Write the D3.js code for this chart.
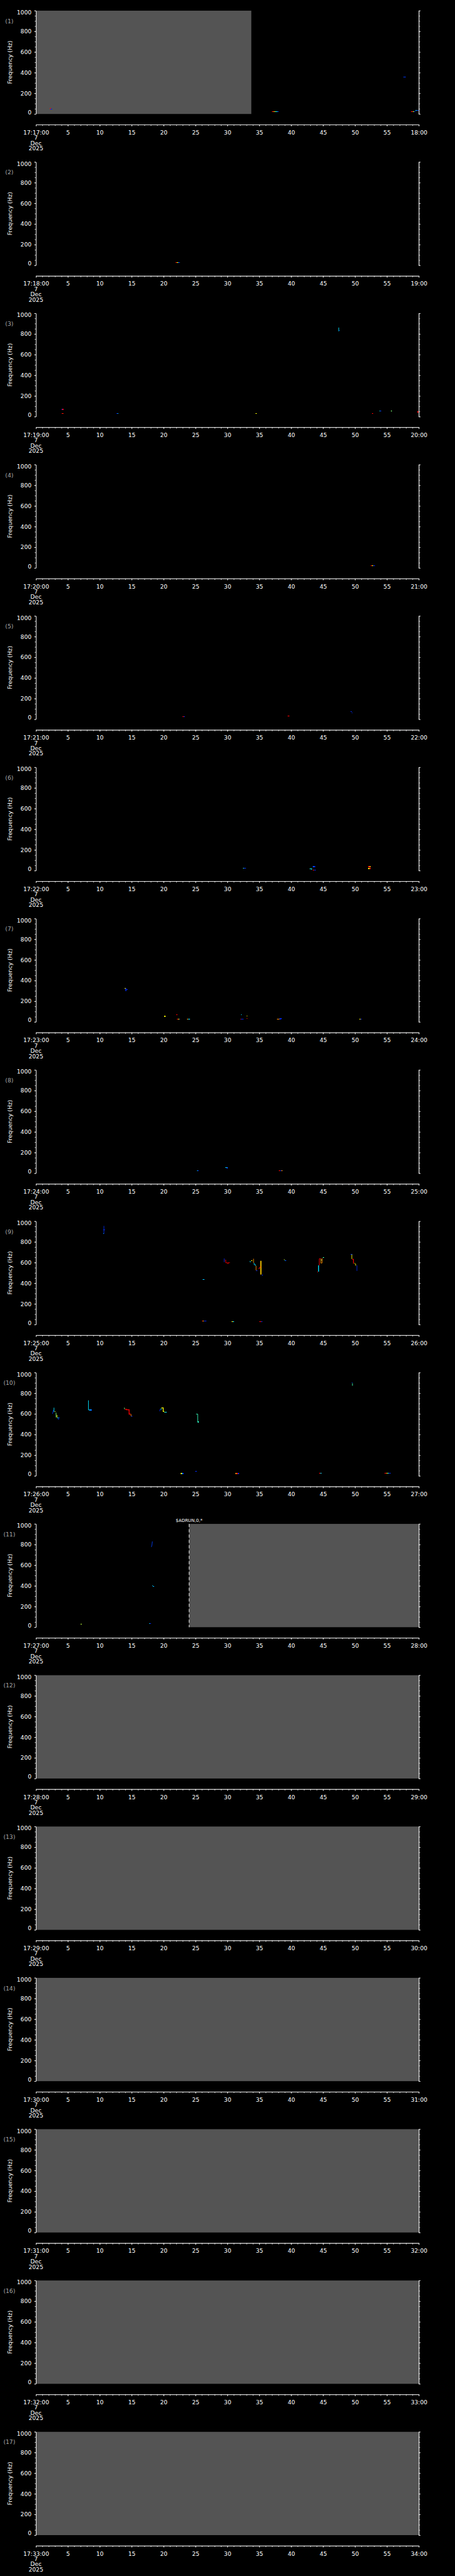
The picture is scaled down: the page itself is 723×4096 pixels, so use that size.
<!DOCTYPE html>
<html>
<head>
<meta charset="utf-8">
<script src="https://cdn.jsdelivr.net/npm/d3@7"></script>
<style>
html, body { margin: 0; padding: 0; background: #000; }
svg { display: block; }
</style>
</head>
<body>
<div id="chart"></div>
<script>
// one panel per minute, 17:17 .. 17:33
const panelMinutes = d3.range(17, 34);
const majorSec = d3.range(0, 61, 5);
const minorSec = d3.range(0, 61, 1);
const freqMajor = d3.range(0, 1001, 200);
const freqMinor = d3.range(0, 1001, 50);
const dateLines = ["7", "Dec", "2025"];

// [panel, tStart, tEnd] no-data (grey) spans
const grayRanges = [
  [0, 0, 33.75], [10, 24, 60],
  [11, 0, 60], [12, 0, 60], [13, 0, 60], [14, 0, 60], [15, 0, 60], [16, 0, 60]
];
// [panel, t] dashed file boundaries
const boundaries = [[10, 24]];
const markerLabels = [[10, 24, "$ADRUN,0,*"]];

// [panel, tStart, freq, [cell values...]]  one cell per time bin
const dashes = [
  [0, 2.15, 55, [0.92]], [0, 2.25, 46, [0.1, 0.1]],
  [0, 37.0, 24, [0.92, 0.8, 0.65, 0.5, 0.35, 0.1]],
  [0, 57.6, 359, [0.15, 0.1]],
  [0, 58.75, 25, [0.92, 0.92, 0.6, 0.1]],
  [0, 59.5, 36, [0.35, 0.2, 0.1]],
  [1, 21.9, 25, [0.92, 0.65, 0.3, 0.1]],
  [2, 47.5, 835, [0.1]],
  [2, 4.0, 70, [0.1, 0.92]], [2, 4.0, 28, [0.92, 0.9]], [2, 12.6, 28, [0.1, 0.35]],
  [2, 34.4, 28, [0.65]], [2, 52.7, 28, [0.92]], [2, 53.8, 57, [0.35, 0.1]],
  [2, 55.6, 55, [0.55]], [2, 59.8, 45, [0.92]],
  [3, 52.5, 23, [0.92, 0.65, 0.1, 0.1]],
  [4, 23.0, 24, [0.92, 0.1]], [4, 39.4, 30, [0.92, 0.92]], [4, 49.3, 72, [0.1]], [4, 49.45, 64, [0.1]],
  [5, 32.4, 25, [0.5, 0.2, 0.1]], [5, 42.9, 18, [0.4, 0.4]], [5, 43.4, 38, [0.2, 0.1]],
  [5, 43.4, 3, [0.92, 0.1, 0.1]], [5, 52.1, 38, [0.92, 0.8]], [5, 52.1, 20, [0.65, 0.92]],
  [6, 13.9, 324, [0.65]], [6, 14.0, 312, [0.1, 0.1]],
  [6, 20.1, 54, [0.65]], [6, 22.0, 71, [0.92]], [6, 22.1, 28, [0.92, 0.65, 0.1]],
  [6, 23.65, 28, [0.8, 0.35, 0.35]], [6, 32.1, 71, [0.35]], [6, 32.0, 28, [0.92, 0.1, 0.1]],
  [6, 33.0, 57, [0.65]], [6, 33.0, 32, [0.92]], [6, 37.8, 28, [0.8, 0.8, 0.1, 0.1]],
  [6, 38.2, 33, [0.1, 0.1]], [6, 50.7, 28, [0.65, 0.1]], [6, 50.9, 25, [0.1]],
  [7, 25.2, 25, [0.35, 0.1]], [7, 29.7, 55, [0.35, 0.25]], [7, 29.85, 49, [0.1]],
  [7, 38.1, 25, [0.92, 0.1, 0.8]],
  [8, 10.5, 917, [0.1, 0.1]], [8, 10.5, 880, [0.35]], [8, 26.1, 436, [0.35, 0.3]],
  [8, 33.75, 617, [0.65]], [8, 34.55, 520, [0.1]], [8, 35.4, 481, [0.1]],
  [8, 39.05, 618, [0.1]], [8, 44.05, 510, [0.92]], [8, 44.7, 625, [0.55]], [8, 45.0, 650, [0.5]],
  [8, 49.25, 681, [0.1, 0.15]],
  [8, 26.0, 32, [0.92, 0.8, 0.1, 0.1]], [8, 30.7, 27, [0.65, 0.35]], [8, 35.0, 27, [0.92, 0.92, 0.1]],
  [9, 2.9, 620, [0.65]], [9, 3.35, 560, [0.35, 0.1]], [9, 3.45, 548, [0.1]],
  [9, 8.4, 638, [0.2, 0.2]], [9, 14.95, 577, [0.1]], [9, 19.55, 648, [0.35]],
  [9, 20.15, 618, [0.5, 0.35]], [9, 25.35, 522, [0.45]], [9, 49.45, 903, [0.1]],
  [9, 22.65, 23, [0.65, 0.35, 0.1]], [9, 24.9, 44, [0.1, 0.1]], [9, 31.3, 23, [0.8, 0.92, 0.1]],
  [9, 44.4, 27, [0.92, 0.35]], [9, 54.6, 27, [0.92, 0.92, 0.65, 0.35, 0.1, 0.1]],
  [10, 18.2, 403, [0.35]], [10, 18.35, 396, [0.3]], [10, 7.0, 29, [0.6]], [10, 17.7, 33, [0.35, 0.1]]
];

// [panel, value, [[t, freq], ...], width]  frequency traces
const tracks = [
  [2, 0.35, [[47.45, 862], [47.45, 826]]],
  [5, 0.4, [[43.2, 18], [43.2, 8]]],
  [6, 0.1, [[14.1, 325], [14.1, 297]], 2.2],
  [8, 0.1, [[10.65, 955], [10.65, 878]]],
  [8, 0.1, [[29.5, 640], [29.5, 604]]],
  [8, 1.0, [[29.6, 622], [29.75, 622], [29.75, 600], [29.9, 600], [29.9, 596], [30.05, 596], [30.05, 590], [30.15, 590], [30.15, 600], [30.4, 600]], 1.8],
  [8, 0.35, [[33.5, 612], [33.6, 612], [33.6, 602]]],
  [8, 0.8, [[34.1, 637], [34.1, 597]]],
  [8, 0.35, [[34.2, 597], [34.2, 580], [34.4, 580], [34.4, 568]]],
  [8, 0.8, [[34.5, 568], [34.5, 525]]],
  [8, 0.72, [[35.25, 617], [35.25, 484]], 2.6],
  [8, 0.92, [[34.9, 540], [35.05, 548], [35.2, 560]], 1.6],
  [8, 0.65, [[38.9, 632], [38.95, 625]]],
  [8, 0.35, [[39.0, 625], [39.05, 618]]],
  [8, 0.35, [[44.3, 573], [44.3, 512]], 2],
  [8, 0.92, [[44.4, 573], [44.4, 637], [44.65, 637]]],
  [8, 0.8, [[44.65, 637], [44.65, 595], [44.8, 595]]],
  [8, 0.8, [[44.85, 595], [44.85, 643]]],
  [8, 0.65, [[49.5, 678], [49.5, 635]]],
  [8, 0.92, [[49.55, 632], [49.75, 632], [49.75, 590]], 1.6],
  [8, 0.65, [[49.9, 595], [50.0, 590], [50.1, 585], [50.1, 570]]],
  [8, 0.1, [[50.3, 573], [50.3, 519]]],
  [9, 0.1, [[2.6, 600], [2.65, 620], [2.75, 638]]],
  [9, 0.35, [[2.83, 660], [2.83, 617]]],
  [9, 0.55, [[3.15, 612], [3.15, 566]]],
  [9, 0.65, [[3.3, 590], [3.3, 565]]],
  [9, 0.35, [[8.23, 731], [8.23, 638], [8.65, 638]]],
  [9, 0.55, [[13.85, 660], [13.9, 645]]],
  [9, 0.92, [[13.95, 645], [14.2, 645], [14.2, 640], [14.6, 640], [14.6, 598], [14.85, 598]], 1.8],
  [9, 0.8, [[14.9, 598], [14.9, 577]]],
  [9, 0.1, [[19.4, 625], [19.45, 648]]],
  [9, 0.65, [[19.65, 658], [19.95, 658], [19.95, 623], [20.1, 623]], 1.8],
  [9, 0.48, [[25.1, 598], [25.35, 598], [25.35, 520]]],
  [9, 0.5, [[49.6, 896], [49.6, 872]]],
  [10, 0.15, [[18.1, 776], [18.2, 805], [18.25, 830]]]
];

const W = 1024, H = 5802, SCALE = 0.705;
const TOP0 = 24, PITCH = 341.3, PLOT_H = 233, AXIS_GAP = 24;
const X0 = 81, X1 = 944;
const DT = 0.17, DF = 7;
const FONT = "DejaVu Sans, Verdana, sans-serif";

const color = d3.scaleLinear()
  .domain([0, 0.2, 0.35, 0.5, 0.65, 0.8, 0.92, 1])
  .range(["#0000c0", "#0050ff", "#00e0ff", "#40ffb0", "#ffff00", "#ff9000", "#ff0000", "#a00000"]);

const svg = d3.select("#chart").append("svg")
  .attr("width", W * SCALE)
  .attr("height", H * SCALE)
  .attr("viewBox", `0 0 ${W} ${H}`)
  .style("background", "#000");

svg.append("rect").attr("width", W).attr("height", H).attr("fill", "#000");

const x = d3.scaleLinear().domain([0, 60]).range([X0, X1]);

panelMinutes.forEach((mm, i) => {
  const top = TOP0 + i * PITCH;
  const y = d3.scaleLinear().domain([0, 1000]).range([top + PLOT_H, top]);
  const g = svg.append("g");

  // no-data fill
  g.selectAll("rect.gray")
    .data(grayRanges.filter(d => d[0] === i))
    .enter().append("rect")
    .attr("x", d => x(d[1]))
    .attr("width", d => x(d[2]) - x(d[1]))
    .attr("y", top)
    .attr("height", PLOT_H)
    .attr("fill", "#545454");

  g.selectAll("line.bound")
    .data(boundaries.filter(d => d[0] === i))
    .enter().append("line")
    .attr("x1", d => x(d[1])).attr("x2", d => x(d[1]))
    .attr("y1", top).attr("y2", top + PLOT_H)
    .attr("stroke", "#fff").attr("stroke-width", 1.2)
    .attr("stroke-dasharray", "7,5");

  g.selectAll("text.marker")
    .data(markerLabels.filter(d => d[0] === i))
    .enter().append("text")
    .attr("x", d => x(d[1])).attr("y", top - 4)
    .attr("text-anchor", "middle")
    .attr("fill", "#fff").attr("font-family", FONT).attr("font-size", 10)
    .text(d => d[2]);

  // spectrogram cells
  const cells = [];
  dashes.filter(d => d[0] === i).forEach(d => {
    d[3].forEach((v, k) => cells.push({ t: d[1] + k * DT, f: d[2], v: v }));
  });
  g.selectAll("rect.cell")
    .data(cells)
    .enter().append("rect")
    .attr("x", d => x(d.t))
    .attr("width", x(DT) - x(0))
    .attr("y", d => y(d.f + DF / 2))
    .attr("height", y(0) - y(DF))
    .attr("fill", d => color(d.v))
    .attr("shape-rendering", "crispEdges");

  const line = d3.line().x(p => x(p[0])).y(p => y(p[1]));
  g.selectAll("path.track")
    .data(tracks.filter(d => d[0] === i))
    .enter().append("path")
    .attr("d", d => line(d[2]))
    .attr("fill", "none")
    .attr("stroke", d => color(d[1]))
    .attr("stroke-width", d => d[3] || 1.3);

  // axes
  const axisStyle = sel => {
    sel.selectAll("path, line").attr("stroke", "#fff").attr("stroke-width", 1);
    sel.selectAll("text").attr("fill", "#fff").attr("font-family", FONT).attr("font-size", 13);
  };

  const fmt = t => t === 0 ? `17:${mm}:00` : t === 60 ? `${mm + 1}:00` : String(t);
  const axisY = top + PLOT_H + AXIS_GAP;
  g.append("g").attr("transform", `translate(0,${axisY})`)
    .call(d3.axisBottom(x).tickValues(minorSec).tickSize(3).tickSizeOuter(0).tickFormat(""))
    .call(axisStyle);
  g.append("g").attr("transform", `translate(0,${axisY})`)
    .call(d3.axisBottom(x).tickValues(majorSec).tickSize(4).tickSizeOuter(0).tickPadding(9).tickFormat(fmt))
    .call(axisStyle);

  g.selectAll("text.date")
    .data(dateLines)
    .enter().append("text")
    .attr("x", X0)
    .attr("y", (d, k) => axisY + 34 + k * 12)
    .attr("text-anchor", "middle")
    .attr("fill", "#fff").attr("font-family", FONT).attr("font-size", 13)
    .text(d => d);

  g.append("g").attr("transform", `translate(${X0},0)`)
    .call(d3.axisLeft(y).tickValues(freqMinor).tickSize(3).tickSizeOuter(0).tickFormat(""))
    .call(axisStyle);
  const left = g.append("g").attr("transform", `translate(${X0},0)`)
    .call(d3.axisLeft(y).tickValues(freqMajor).tickSize(4).tickSizeOuter(0).tickPadding(6).tickFormat(d3.format("d")))
    .call(axisStyle);
  left.selectAll(".tick text")
    .attr("y", d => d === 1000 ? 4 : d === 0 ? -4 : 0);

  g.append("g").attr("transform", `translate(${X1},0)`)
    .call(d3.axisRight(y).tickValues(freqMinor).tickSize(3).tickSizeOuter(0).tickFormat(""))
    .call(axisStyle);
  g.append("g").attr("transform", `translate(${X1},0)`)
    .call(d3.axisRight(y).tickValues(freqMajor).tickSize(4).tickSizeOuter(0).tickFormat(""))
    .call(axisStyle);

  g.append("text")
    .attr("transform", `translate(27,${top + PLOT_H / 2}) rotate(-90)`)
    .attr("text-anchor", "middle")
    .attr("fill", "#fff").attr("font-family", FONT).attr("font-size", 13)
    .text("Frequency (Hz)");

  g.append("text")
    .attr("x", 21).attr("y", top + 28)
    .attr("text-anchor", "middle")
    .attr("fill", "#a8a8a8").attr("font-family", FONT).attr("font-size", 13)
    .text(`(${i + 1})`);
});
</script>
</body>
</html>
